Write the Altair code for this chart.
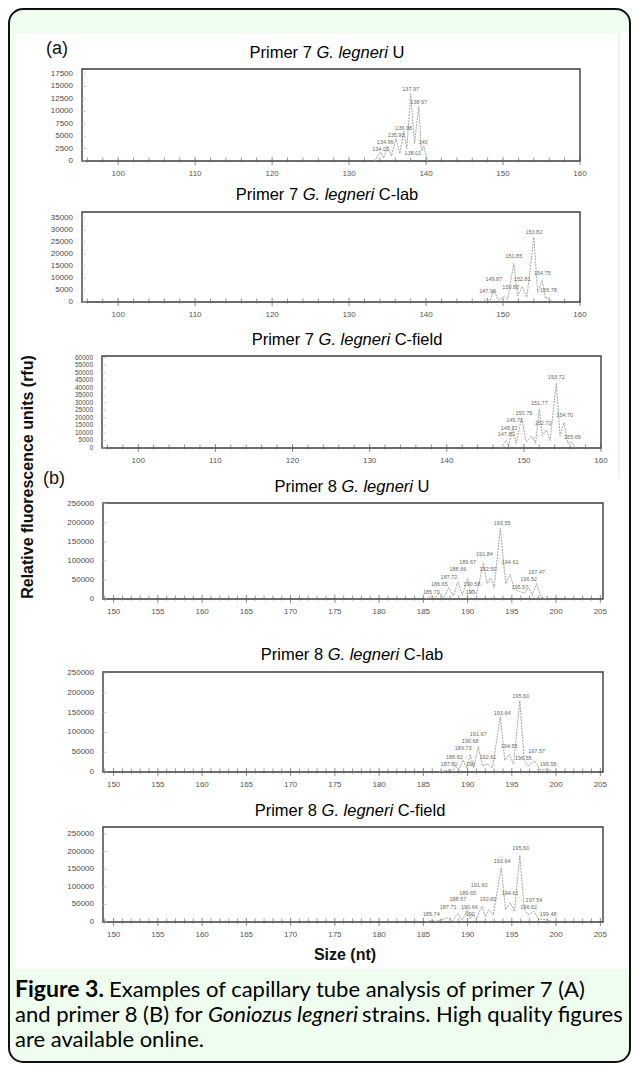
import altair as alt
import pandas as pd

# ---------------- data ----------------
P7_X_MAJOR = [100, 110, 120, 130, 140, 150, 160]
P7_X_MINOR = [96, 98, 102, 104, 106, 108, 112, 114, 116, 118, 122, 124, 126, 128,
              132, 134, 136, 138, 142, 144, 146, 148, 152, 154, 156, 158]
P8_X_MAJOR = [150, 155, 160, 165, 170, 175, 180, 185, 190, 195, 200, 205]
P8_X_MINOR = [149, 151, 152, 153, 154, 156, 157, 158, 159, 161, 162, 163, 164, 166,
              167, 168, 169, 171, 172, 173, 174, 176, 177, 178, 179, 181, 182, 183,
              184, 186, 187, 188, 189, 191, 192, 193, 194, 196, 197, 198, 199, 201,
              202, 203, 204]
P1_Y_TICKS = [0, 2500, 5000, 7500, 10000, 12500, 15000, 17500]
P2_Y_TICKS = [0, 5000, 10000, 15000, 20000, 25000, 30000, 35000]
P3_Y_TICKS = [0, 5000, 10000, 15000, 20000, 25000, 30000, 35000, 40000, 45000,
              50000, 55000, 60000]
P8_Y_TICKS = [0, 50000, 100000, 150000, 200000, 250000]

TITLES = [
    ("Primer 7", "G. legneri", "U"),
    ("Primer 7", "G. legneri", "C-lab"),
    ("Primer 7", "G. legneri", "C-field"),
    ("Primer 8", "G. legneri", "U"),
    ("Primer 8", "G. legneri", "C-lab"),
    ("Primer 8", "G. legneri", "C-field"),
]

# Primer 7, U
T1_X = [133.3, 134.1, 134.5, 135.0, 135.5, 136.1, 136.6, 137.1, 137.5, 138.0, 138.5, 139.05, 139.4, 139.7, 140.2]
T1_Y = [0, 1800, 600, 3000, 1000, 4500, 1500, 6000, 2500, 13500, 3500, 11000, 2000, 3000, 0]
L1_X = [138.0, 139.05, 137.1, 136.1, 134.7, 134.1, 139.6, 138.3]
L1_Y = [14500, 11900, 6600, 5200, 3800, 2400, 3800, 1600]
L1_T = ["137.97", "138.97", "136.98", "135.90", "134.96", "134.01", "140", "138.01"]

# Primer 7, C-lab
T2_X = [147.2, 147.9, 148.3, 148.8, 149.4, 150.2, 150.6, 151.4, 151.9, 152.5, 153.1, 154.0, 154.5, 155.1, 155.5, 155.9, 156.4]
T2_Y = [0, 1500, 300, 5000, 800, 2500, 1000, 16000, 2500, 6500, 2000, 27000, 4000, 9000, 1500, 2000, 0]
L2_X = [154.0, 151.4, 155.1, 148.8, 152.5, 151.0, 148.0, 155.9]
L2_Y = [29200, 19200, 12100, 9600, 9600, 6300, 4600, 5000]
L2_T = ["153.82", "151.85", "154.75", "149.87", "152.81", "150.82", "147.90", "155.78"]

# Primer 7, C-field
T3_X = [147.0, 147.7, 148.0, 148.6, 149.0, 149.7, 150.3, 151.0, 151.5, 152.0, 152.4, 152.9, 153.4, 154.2, 154.7, 155.2, 155.7, 156.2, 156.7]
T3_Y = [0, 5000, 1500, 14000, 3000, 20000, 4000, 8000, 3000, 26000, 8000, 12000, 5000, 43000, 8000, 17000, 3000, 4000, 0]
L3_X = [154.2, 152.0, 150.0, 155.3, 148.8, 152.5, 148.1, 147.7, 156.3]
L3_Y = [47300, 30000, 23300, 22000, 18700, 16700, 13300, 9300, 7300]
L3_T = ["153.72", "151.77", "150.75", "154.70", "149.71", "152.72", "148.72", "147.81", "155.69"]

# Primer 8, U
T4_X = [185.3, 185.9, 186.3, 186.8, 187.3, 187.9, 188.4, 188.9, 189.4, 190.0, 190.3, 190.6, 191.0, 191.8, 192.2, 192.6, 193.0, 193.7, 194.3, 194.8, 195.3, 195.9, 196.4, 196.9, 197.3, 197.8, 198.3, 199.0]
T4_Y = [0, 8000, 2000, 15000, 4000, 30000, 8000, 45000, 10000, 55000, 15000, 25000, 12000, 95000, 40000, 55000, 30000, 185000, 40000, 65000, 25000, 20000, 15000, 30000, 10000, 40000, 5000, 0]
L4_X = [193.9, 191.9, 190.0, 194.8, 188.9, 192.3, 197.8, 187.9, 196.9, 186.8, 190.5, 195.9, 185.9, 190.3]
L4_Y = [200000, 118000, 97000, 97000, 79000, 79000, 71000, 58000, 53000, 40000, 40000, 32000, 18000, 18000]
L4_T = ["193.55", "191.84", "189.67", "194.61", "188.66", "192.50", "197.47", "187.72", "196.52", "186.65", "190.58", "195.57", "185.70", "190"]

# Primer 8, C-lab
T5_X = [186.8, 187.9, 188.3, 188.6, 189.0, 189.5, 189.9, 190.3, 190.7, 191.2, 191.7, 192.3, 192.8, 193.7, 194.2, 194.7, 195.2, 195.9, 196.4, 196.8, 197.6, 198.2, 199.1, 199.6]
T5_Y = [0, 5000, 2000, 15000, 5000, 30000, 8000, 45000, 10000, 65000, 15000, 20000, 10000, 140000, 30000, 45000, 20000, 180000, 30000, 15000, 28000, 5000, 8000, 0]
L5_X = [196.0, 193.9, 191.2, 190.3, 194.7, 189.5, 197.8, 188.5, 192.3, 196.3, 187.9, 190.3, 199.1]
L5_Y = [192500, 150000, 95000, 77500, 65000, 60000, 52500, 37500, 37500, 35000, 20000, 19000, 20000]
L5_T = ["195.60", "193.64", "191.67", "190.68", "194.55", "189.73", "197.57", "188.82", "192.61", "196.55", "187.80", "190", "199.55"]

# Primer 8, C-field
T6_X = [185.3, 185.9, 186.4, 187.8, 188.3, 188.9, 189.4, 190.0, 190.3, 190.6, 191.0, 191.6, 192.0, 192.4, 192.9, 193.8, 194.3, 194.8, 195.3, 195.9, 196.4, 196.9, 197.5, 198.0, 199.1, 199.6]
T6_Y = [0, 5000, 2000, 12000, 4000, 25000, 6000, 35000, 10000, 20000, 8000, 45000, 15000, 35000, 20000, 155000, 35000, 55000, 30000, 190000, 35000, 20000, 30000, 8000, 6000, 0]
L6_X = [196.0, 193.9, 191.3, 190.0, 194.8, 188.9, 192.3, 197.5, 187.8, 190.2, 196.9, 185.9, 190.3, 199.1]
L6_Y = [210000, 173000, 105000, 82000, 82000, 65000, 65000, 62500, 43000, 43000, 43000, 23000, 23000, 22000]
L6_T = ["195.60", "193.64", "191.60", "189.65", "194.61", "188.67", "192.60", "197.54", "187.71", "190.64", "196.62", "185.74", "190", "199.48"]

Y_TITLE = "Relative fluorescence units (rfu)"
X_TITLE = "Size (nt)"
CAPTION_BOLD = "Figure 3."
CAPTION_1 = "Examples of capillary tube analysis of primer 7 (A)"
CAPTION_2A = "and primer 8 (B) for"
CAPTION_2B = "Goniozus legneri"
CAPTION_2C = "strains. High quality figures"
CAPTION_3 = "are available online."

# ---------------- styling / layout ----------------
FONT = "Liberation Sans, Arial, Helvetica, sans-serif"
CAPFONT = "Gill Sans, Gill Sans MT, Lato, Open Sans, sans-serif"
W, H = 623, 1056

ARIAL_W = {'P': 667, 'r': 333, 'i': 222, 'm': 833, 'e': 556, ' ': 278, '7': 556, '8': 556,
           'G': 778, '.': 278, 'l': 222, 'g': 556, 'n': 556, 'U': 722, 'C': 722, '-': 333,
           'a': 556, 'b': 556, 'f': 278, 'd': 556}


def text_w(s, size):
    return sum(ARIAL_W.get(c, 556) for c in s) * size / 1000.0


def txt(s, x, y, **kw):
    return alt.Chart(pd.DataFrame({'t': [s]})).mark_text(**kw).encode(
        x=alt.value(x), y=alt.value(y), text='t:N')


def title_layers(parts, cx, cy, size=16.5):
    sp = text_w(' ', size)
    widths = [text_w(p, size) for p in parts]
    total = sum(widths) + sp * (len(parts) - 1)
    x = cx - total / 2
    out = []
    for i, (p, w) in enumerate(zip(parts, widths)):
        style = 'italic' if i == 1 else 'normal'
        out.append(txt(p, x, cy, align='left', baseline='middle', font=FONT,
                       fontSize=size, fontStyle=style, color='#000'))
        x += w + sp
    return out


def panel(box, xdom, ydom, xmaj, xmin_, yt, tx, ty, lx, ly, lt, title, tcx, tcy, yfs=8):
    x0, x1, yt0, yb = box
    xs = alt.Scale(domain=xdom, range=[x0, x1], nice=False, zero=False)
    ys = alt.Scale(domain=ydom, range=[yb, yt0], nice=False, zero=False)
    layers = []
    frame = pd.DataFrame({'xa': [xdom[0]], 'xb': [xdom[1]], 'ya': [ydom[0]], 'yb': [ydom[1]]})
    layers.append(alt.Chart(frame).mark_rect(fill='white', stroke='#3c3c3c', strokeWidth=1.4).encode(
        x=alt.X('xa:Q', scale=xs, axis=None), x2='xb:Q',
        y=alt.Y('ya:Q', scale=ys, axis=None), y2='yb:Q'))
    tr = pd.DataFrame({'x': tx, 'y': ty})
    layers.append(alt.Chart(tr).mark_line(color='#a5a5a5', strokeWidth=1, strokeDash=[2, 1]).encode(
        x=alt.X('x:Q', scale=xs, axis=None), y=alt.Y('y:Q', scale=ys, axis=None)))
    lb = pd.DataFrame({'x': lx, 'y': ly, 't': lt})
    layers.append(alt.Chart(lb).mark_text(fontSize=5.5, color='#6a6a6a', font=FONT, baseline='middle').encode(
        x=alt.X('x:Q', scale=xs, axis=None), y=alt.Y('y:Q', scale=ys, axis=None), text='t:N'))
    ytk = pd.DataFrame({'v': yt})
    layers.append(alt.Chart(ytk).mark_text(align='right', baseline='middle', fontSize=yfs, font=FONT,
                                          color='#4a4a4a').encode(
        x=alt.value(x0 - 9), y=alt.Y('v:Q', scale=ys, axis=None), text=alt.Text('v:Q', format='d')))
    layers.append(alt.Chart(ytk).mark_tick(orient='horizontal', size=4, thickness=1, color='#bbb').encode(
        x=alt.value(x0 + 2), y=alt.Y('v:Q', scale=ys, axis=None)))
    xmj = pd.DataFrame({'v': xmaj})
    layers.append(alt.Chart(xmj).mark_text(baseline='middle', fontSize=8, font=FONT, color='#555').encode(
        x=alt.X('v:Q', scale=xs, axis=None), y=alt.value(yb + 13), text=alt.Text('v:Q', format='d')))
    layers.append(alt.Chart(xmj).mark_tick(orient='vertical', size=8, thickness=1, color='#555').encode(
        x=alt.X('v:Q', scale=xs, axis=None), y=alt.value(yb)))
    xmn = pd.DataFrame({'v': xmin_})
    layers.append(alt.Chart(xmn).mark_tick(orient='vertical', size=5, thickness=1, color='#666').encode(
        x=alt.X('v:Q', scale=xs, axis=None), y=alt.value(yb - 1)))
    layers += title_layers(title, tcx, tcy)
    return alt.layer(*layers)


bg = alt.Chart(pd.DataFrame({'a': [0]})).mark_rect(
    fill='#eefdee', stroke='#111', strokeWidth=2, cornerRadius=14).encode(
    x=alt.value(1), x2=alt.value(W - 1), y=alt.value(1), y2=alt.value(H - 2))
white = alt.Chart(pd.DataFrame({'a': [0]})).mark_rect(fill='white').encode(
    x=alt.value(7), x2=alt.value(W - 2), y=alt.value(25), y2=alt.value(961))
vline = alt.Chart(pd.DataFrame({'a': [0]})).mark_rule(color='#e2e2e2', strokeWidth=1).encode(
    x=alt.value(611), y=alt.value(25), y2=alt.value(470))

X7 = [95.3, 160]
X8 = [148.8, 205.3]

panels = [
    panel((74, 572, 61, 153), X7, [0, 18500], P7_X_MAJOR, P7_X_MINOR, P1_Y_TICKS,
          T1_X, T1_Y, L1_X, L1_Y, L1_T, TITLES[0], 319, 45),
    panel((74, 572, 204, 294), X7, [0, 37500], P7_X_MAJOR, P7_X_MINOR, P2_Y_TICKS,
          T2_X, T2_Y, L2_X, L2_Y, L2_T, TITLES[1], 319, 187),
    panel((94, 593, 348, 440), X7, [0, 61000], P7_X_MAJOR, P7_X_MINOR, P3_Y_TICKS,
          T3_X, T3_Y, L3_X, L3_Y, L3_T, TITLES[2], 339, 332, yfs=6.5),
    panel((95, 595, 495, 591), X8, [0, 252000], P8_X_MAJOR, P8_X_MINOR, P8_Y_TICKS,
          T4_X, T4_Y, L4_X, L4_Y, L4_T, TITLES[3], 344, 479),
    panel((95, 595, 664, 764), X8, [0, 253000], P8_X_MAJOR, P8_X_MINOR, P8_Y_TICKS,
          T5_X, T5_Y, L5_X, L5_Y, L5_T, TITLES[4], 344, 647),
    panel((95, 595, 819, 914), X8, [0, 270000], P8_X_MAJOR, P8_X_MINOR, P8_Y_TICKS,
          T6_X, T6_Y, L6_X, L6_Y, L6_T, TITLES[5], 342, 803),
]

CAP = 22
extras = [
    txt("(a)", 49, 41, align='center', baseline='middle', font=FONT, fontSize=18, color='#111'),
    txt("(b)", 46, 471, align='center', baseline='middle', font=FONT, fontSize=18, color='#111'),
    txt(Y_TITLE, 20, 469, align='center', baseline='middle', font=FONT, fontSize=16,
        fontWeight='bold', angle=270, color='#111'),
    txt(X_TITLE, 337, 947, align='center', baseline='middle', font=FONT, fontSize=16,
        fontWeight='bold', color='#111'),
    txt(CAPTION_BOLD, 7, 982, align='left', baseline='middle', font=CAPFONT, fontSize=23,
        fontWeight='bold', color='#000'),
    txt(CAPTION_1, 101, 982, align='left', baseline='middle', font=CAPFONT, fontSize=CAP, color='#000'),
    txt(CAPTION_2A, 7, 1007, align='left', baseline='middle', font=CAPFONT, fontSize=CAP, color='#000'),
    txt(CAPTION_2B, 200, 1007, align='left', baseline='middle', font=CAPFONT, fontSize=CAP,
        fontStyle='italic', color='#000'),
    txt(CAPTION_2C, 354, 1007, align='left', baseline='middle', font=CAPFONT, fontSize=CAP, color='#000'),
    txt(CAPTION_3, 7, 1032, align='left', baseline='middle', font=CAPFONT, fontSize=CAP, color='#000'),
]

chart = alt.layer(bg, white, vline, *panels, *extras).resolve_scale(
    x='independent', y='independent'
).properties(
    width=W, height=H, padding=0, autosize=alt.AutoSizeParams(type='none')
).configure_view(strokeWidth=0)

chart.save("out.html", embed_options={"renderer": "svg", "actions": False})
